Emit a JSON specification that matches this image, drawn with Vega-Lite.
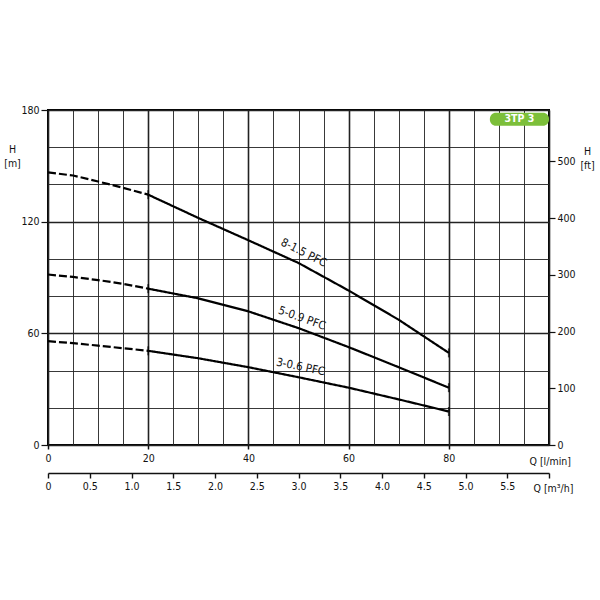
{
  "$schema": "https://vega.github.io/schema/vega-lite/v6.json",
  "width": 501,
  "height": 335,
  "autosize": "none",
  "padding": {"left": 48, "top": 110, "right": 51, "bottom": 155},
  "background": "white",
  "config": {
    "view": {"stroke": "black", "strokeWidth": 2},
    "font": "DejaVu Sans Condensed, Liberation Sans Narrow, DejaVu Sans",
    "axis": {"labelFontSize": 10.5, "titleFontSize": 10.5, "labelColor": "#111", "titleColor": "#111", "titleFontWeight": "normal", "tickColor": "#111", "domainColor": "#111", "labelOverlap": false, "tickCount": 100}
  },
  "datasets": {
    "curves": [
      {"curve": "8-1.5 PFC", "part": "dashed", "Q": 0, "H": 146.5},
      {"curve": "8-1.5 PFC", "part": "dashed", "Q": 5, "H": 144.8},
      {"curve": "8-1.5 PFC", "part": "dashed", "Q": 10, "H": 141.6},
      {"curve": "8-1.5 PFC", "part": "dashed", "Q": 15, "H": 138.2},
      {"curve": "8-1.5 PFC", "part": "dashed", "Q": 20, "H": 134.5},
      {"curve": "8-1.5 PFC", "part": "solid", "Q": 20, "H": 134.5},
      {"curve": "8-1.5 PFC", "part": "solid", "Q": 30, "H": 122},
      {"curve": "8-1.5 PFC", "part": "solid", "Q": 40, "H": 110},
      {"curve": "8-1.5 PFC", "part": "solid", "Q": 50, "H": 97.8},
      {"curve": "8-1.5 PFC", "part": "solid", "Q": 60, "H": 83},
      {"curve": "8-1.5 PFC", "part": "solid", "Q": 70, "H": 67.3},
      {"curve": "8-1.5 PFC", "part": "solid", "Q": 80, "H": 49.5},
      {"curve": "5-0.9 PFC", "part": "dashed", "Q": 0, "H": 91.6},
      {"curve": "5-0.9 PFC", "part": "dashed", "Q": 5, "H": 90.3},
      {"curve": "5-0.9 PFC", "part": "dashed", "Q": 10, "H": 88.6},
      {"curve": "5-0.9 PFC", "part": "dashed", "Q": 15, "H": 86.6},
      {"curve": "5-0.9 PFC", "part": "dashed", "Q": 20, "H": 84},
      {"curve": "5-0.9 PFC", "part": "solid", "Q": 20, "H": 84},
      {"curve": "5-0.9 PFC", "part": "solid", "Q": 30, "H": 78.8},
      {"curve": "5-0.9 PFC", "part": "solid", "Q": 40, "H": 71.8},
      {"curve": "5-0.9 PFC", "part": "solid", "Q": 50, "H": 62.8},
      {"curve": "5-0.9 PFC", "part": "solid", "Q": 60, "H": 52.6},
      {"curve": "5-0.9 PFC", "part": "solid", "Q": 70, "H": 41.8},
      {"curve": "5-0.9 PFC", "part": "solid", "Q": 80, "H": 30.8},
      {"curve": "3-0.6 PFC", "part": "dashed", "Q": 0, "H": 55.8},
      {"curve": "3-0.6 PFC", "part": "dashed", "Q": 5, "H": 54.7},
      {"curve": "3-0.6 PFC", "part": "dashed", "Q": 10, "H": 53.4},
      {"curve": "3-0.6 PFC", "part": "dashed", "Q": 15, "H": 52},
      {"curve": "3-0.6 PFC", "part": "dashed", "Q": 20, "H": 50.6},
      {"curve": "3-0.6 PFC", "part": "solid", "Q": 20, "H": 50.6},
      {"curve": "3-0.6 PFC", "part": "solid", "Q": 30, "H": 46.6},
      {"curve": "3-0.6 PFC", "part": "solid", "Q": 40, "H": 41.8},
      {"curve": "3-0.6 PFC", "part": "solid", "Q": 50, "H": 36.4},
      {"curve": "3-0.6 PFC", "part": "solid", "Q": 60, "H": 30.8},
      {"curve": "3-0.6 PFC", "part": "solid", "Q": 70, "H": 24.5},
      {"curve": "3-0.6 PFC", "part": "solid", "Q": 80, "H": 18}
    ],
    "badge": [
      {"label": "3TP 3", "Q": 88.2, "Q2": 100, "H": 171.5, "H2": 178.5, "Qm": 94.1, "Hm": 175}
    ]
  },
  "resolve": {"scale": {"x": "independent", "y": "independent"}},
  "layer": [
    {
      "layer": [
        {
          "data": {"name": "curves"},
          "mark": {"type": "line", "color": "black", "strokeWidth": 2.2, "strokeCap": "butt"},
          "encoding": {
            "x": {
              "field": "Q", "type": "quantitative",
              "scale": {"domain": [0, 100], "nice": false, "zero": false},
              "axis": {
                "title": "Q [l/min]",
                "values": [0, 5, 10, 15, 20, 25, 30, 35, 40, 45, 50, 55, 60, 65, 70, 75, 80, 85, 90, 95, 100],
                "tickCount": 100,
                "labelExpr": "datum.value % 20 === 0 && datum.value < 100 ? datum.label : ''",
                "grid": true,
                "gridColor": "#222",
                "gridWidth": {"condition": {"test": "datum.value % 20 === 0", "value": 1.6}, "value": 0.9},
                "domain": false,
                "tickSize": 4,
                "tickWidth": 1.5,
                "tickOpacity": {"condition": {"test": "datum.value % 20 === 0 && datum.value < 100", "value": 1}, "value": 0},
                "labelPadding": 4,
                "labelFlush": false,
                "titleAlign": "left",
                "titleAnchor": "start",
                "titleBaseline": "middle",
                "titleX": 481,
                "titleY": 16
              }
            },
            "y": {
              "field": "H", "type": "quantitative",
              "scale": {"domain": [0, 180], "nice": false, "zero": false},
              "axis": {
                "title": ["H", "[m]"],
                "values": [0, 20, 40, 60, 80, 100, 120, 140, 160, 180],
                "tickCount": 100,
                "labelExpr": "datum.value % 60 === 0 ? datum.label : ''",
                "grid": true,
                "gridColor": "#222",
                "gridWidth": {"condition": {"test": "datum.value % 60 === 0", "value": 1.6}, "value": 0.9},
                "domain": false,
                "tickSize": 7,
                "tickWidth": 1.2,
                "tickOpacity": {"condition": {"test": "datum.value % 60 === 0", "value": 1}, "value": 0},
                "labelPadding": 2,
                "labelFlush": false,
                "titleAngle": 0,
                "titleAlign": "center",
                "titleBaseline": "top",
                "titleLineHeight": 14,
                "titleX": -36,
                "titleY": 34
              }
            },
            "detail": {"field": "curve"},
            "strokeDash": {
              "field": "part", "type": "nominal",
              "scale": {"domain": ["dashed", "solid"], "range": [[8, 3], [1, 0]]},
              "legend": null
            }
          }
        },
        {
          "data": {"name": "curves"},
          "transform": [{"filter": "datum.part === 'solid' && (datum.Q === 20 || datum.Q === 80)"}],
          "mark": {"type": "tick", "orient": "vertical", "color": "black", "size": 9, "thickness": 1.8},
          "encoding": {
            "x": {"field": "Q", "type": "quantitative"},
            "y": {"field": "H", "type": "quantitative"}
          }
        },
        {
          "data": {"name": "curves"},
          "transform": [{"filter": "datum.part === 'solid' && datum.Q === 50 && datum.curve === '8-1.5 PFC'"}],
          "mark": {"type": "text", "angle": 27, "align": "center", "baseline": "bottom", "dy": -6, "fontSize": 11.5, "color": "#111"},
          "encoding": {
            "x": {"field": "Q", "type": "quantitative"},
            "y": {"field": "H", "type": "quantitative"},
            "text": {"field": "curve"}
          }
        },
        {
          "data": {"name": "curves"},
          "transform": [{"filter": "datum.part === 'solid' && datum.Q === 50 && datum.curve === '5-0.9 PFC'"}],
          "mark": {"type": "text", "angle": 19.6, "align": "center", "baseline": "bottom", "dy": -5, "fontSize": 11.5, "color": "#111"},
          "encoding": {
            "x": {"field": "Q", "type": "quantitative"},
            "y": {"field": "H", "type": "quantitative"},
            "text": {"field": "curve"}
          }
        },
        {
          "data": {"name": "curves"},
          "transform": [{"filter": "datum.part === 'solid' && datum.Q === 50 && datum.curve === '3-0.6 PFC'"}],
          "mark": {"type": "text", "angle": 11.5, "align": "center", "baseline": "bottom", "dy": -5, "fontSize": 11.5, "color": "#111"},
          "encoding": {
            "x": {"field": "Q", "type": "quantitative"},
            "y": {"field": "H", "type": "quantitative"},
            "text": {"field": "curve"}
          }
        },
        {
          "data": {"name": "badge"},
          "mark": {"type": "rect", "color": "#7cbf3a", "cornerRadius": 6},
          "encoding": {
            "x": {"field": "Q", "type": "quantitative"},
            "x2": {"field": "Q2"},
            "y": {"field": "H", "type": "quantitative"},
            "y2": {"field": "H2"}
          }
        },
        {
          "data": {"name": "badge"},
          "mark": {"type": "text", "color": "white", "fontSize": 10.5, "fontWeight": "bold", "align": "center", "baseline": "middle"},
          "encoding": {
            "x": {"field": "Qm", "type": "quantitative"},
            "y": {"field": "Hm", "type": "quantitative"},
            "text": {"field": "label"}
          }
        }
      ]
    },
    {
      "data": {"values": [{}]},
      "mark": {"type": "point", "opacity": 0},
      "encoding": {
        "x": {
          "datum": 0, "type": "quantitative",
          "scale": {"domain": [0, 6], "nice": false, "zero": false},
          "axis": {
            "orient": "bottom",
            "offset": 28,
            "title": "Q [m³/h]",
            "values": [0, 0.5, 1, 1.5, 2, 2.5, 3, 3.5, 4, 4.5, 5, 5.5, 6],
            "tickCount": 100,
            "labelExpr": "datum.value === 0 ? '0' : (datum.value >= 6 ? '' : format(datum.value, '.1f'))",
            "grid": false,
            "domain": true,
            "domainWidth": 1.6,
            "tickSize": 5,
            "tickWidth": 1.4,
            "labelPadding": 3,
            "labelFlush": false,
            "titleAlign": "left",
            "titleAnchor": "start",
            "titleBaseline": "middle",
            "titleX": 485,
            "titleY": 15
          }
        },
        "y": {
          "datum": 0, "type": "quantitative",
          "scale": {"domain": [0, 590.55], "nice": false, "zero": false},
          "axis": {
            "orient": "right",
            "title": ["H", "[ft]"],
            "values": [0, 100, 200, 300, 400, 500],
            "tickCount": 100,
            "grid": false,
            "domain": false,
            "tickSize": 6,
            "tickWidth": 1.2,
            "labelPadding": 2,
            "labelFlush": false,
            "titleAngle": 0,
            "titleAlign": "center",
            "titleBaseline": "top",
            "titleLineHeight": 14,
            "titleX": 38,
            "titleY": 36
          }
        }
      }
    }
  ]
}
